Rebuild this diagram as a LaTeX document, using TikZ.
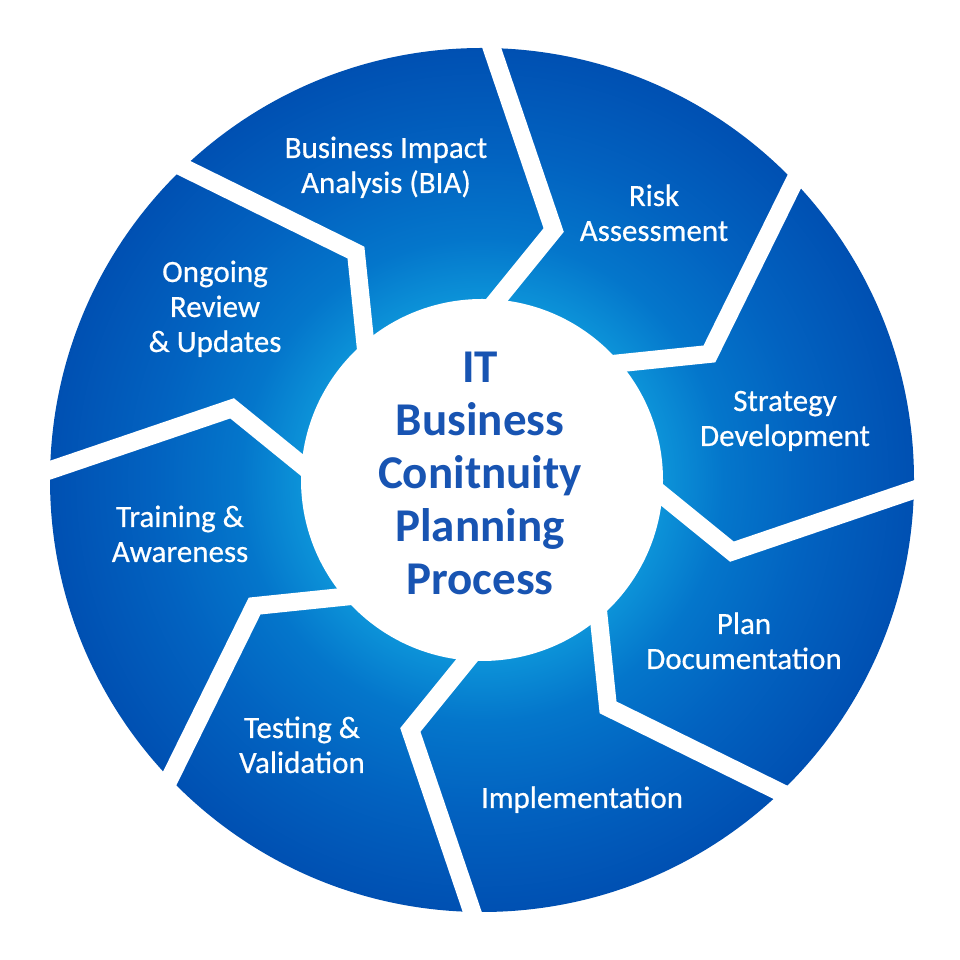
\documentclass[tikz,border=0pt]{standalone}
\usepackage{fontspec}
\setmainfont{Carlito}
\newfontfamily\labelfont{Carlito}[FakeBold=0.5]
\usetikzlibrary{calc}
\definecolor{ringlight}{RGB}{12,146,216}
\definecolor{ringmidA}{RGB}{4,118,203}
\definecolor{ringmidB}{RGB}{2,98,192}
\definecolor{ringdark}{RGB}{0,80,178}
\definecolor{titleblue}{RGB}{24,84,178}
\pgfdeclareradialshading{ringshade}{\pgfpoint{0bp}{0bp}}{color(0bp)=(ringlight); color(10.5bp)=(ringlight); color(14bp)=(ringmidA); color(19bp)=(ringmidB); color(25bp)=(ringdark); color(50bp)=(ringdark)}
\begin{document}
\begin{tikzpicture}[x=1pt,y=1pt,
  gapline/.style={white, line width=18pt, line join=miter, miter limit=10},
  steplabel/.style={text=white, font=\labelfont\fontsize{31}{35}\selectfont, align=center, anchor=base, inner sep=0pt},
  titletext/.style={text=titleblue, font=\fontsize{47}{53}\selectfont\bfseries, align=center, anchor=base, inner sep=0pt}]
\useasboundingbox (0,0) rectangle (960,960);
\fill[white] (0,0) rectangle (960,960);
\coordinate (C) at (482,480);
\shade[shading=ringshade] (C) circle[radius=432];
\foreach \k in {0,...,7}{
  \coordinate (I\k) at ($(C)+({85.2-45*\k}:181)$);
  \coordinate (K\k) at ($(C)+({74-45*\k}:260)$);
  \coordinate (O\k) at ($(C)+({88.7-45*\k}:432)$);
  \draw[gapline] ($(K\k)!1.6!(I\k)$) -- (K\k) -- ($(K\k)!1.25!(O\k)$);
}
\fill[white] (C) circle[radius=181];
\node[titletext] (title) at (480,365) {IT\\Business\\Conitnuity\\Planning\\Process};
\node[steplabel] (bia) at (386,767) {Business Impact\\Analysis (BIA)};
\node[steplabel] (risk) at (654,719) {Risk\\Assessment};
\node[steplabel] (strategy) at (785,514) {Strategy\\Development};
\node[steplabel] (plan) at (744,291) {Plan\\Documentation};
\node[steplabel] (impl) at (582,152) {Implementation};
\node[steplabel] (test) at (302,187) {Testing \&\\Validation};
\node[steplabel] (train) at (180,398) {Training \&\\Awareness};
\node[steplabel] (review) at (215,608) {Ongoing\\Review\\\& Updates};
\end{tikzpicture}
\end{document}
